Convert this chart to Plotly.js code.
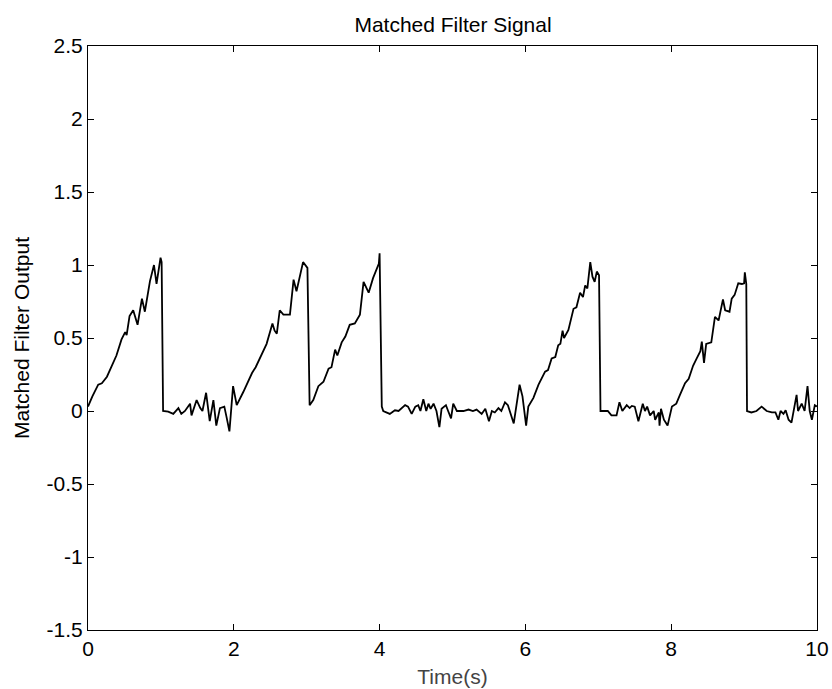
<!DOCTYPE html>
<html>
<head>
<meta charset="utf-8">
<script src="https://cdn.plot.ly/plotly-3.0.1.min.js"></script>
<style>html,body{margin:0;padding:0;background:#fff;}#chart{width:832px;height:689px;}</style>
</head>
<body>
<div id="chart"></div>
<script>
// Time (s)
const timeS = [
0.0,0.06,0.14,0.19,0.26,0.33,0.39,0.46,0.51,0.53,0.57,0.62,0.68,0.74,0.78,0.85,0.905,0.94,0.995,1.01,1.03,
1.10,1.17,1.24,1.28,1.33,1.40,1.42,1.49,1.54,1.57,1.62,1.67,1.72,1.76,1.81,1.87,1.90,1.94,1.99,2.04,
2.13,2.25,2.30,2.36,2.45,2.53,2.56,2.59,2.63,2.68,2.77,2.82,2.86,2.95,3.01,3.04,
3.09,3.16,3.23,3.30,3.34,3.39,3.42,3.48,3.53,3.59,3.66,3.73,3.78,3.85,3.91,3.99,4.00,4.03,
4.05,4.14,4.21,4.26,4.30,4.35,4.39,4.44,4.49,4.53,4.56,4.60,4.64,4.67,4.70,4.74,4.78,4.82,4.85,4.91,4.94,4.98,5.01,5.06,5.15,5.22,5.28,5.33,5.40,5.45,5.50,5.54,5.58,5.63,5.67,5.72,5.76,5.84,5.92,5.96,6.01,6.04,
6.11,6.18,6.27,6.31,6.36,6.41,6.45,6.48,6.51,6.53,6.59,6.66,6.70,6.75,6.79,6.82,6.85,6.89,6.92,6.95,6.98,7.01,7.03,
7.09,7.13,7.18,7.25,7.29,7.33,7.39,7.43,7.46,7.50,7.55,7.61,7.64,7.67,7.71,7.76,7.78,7.83,7.84,7.86,7.90,7.95,
8.01,8.07,8.12,8.19,8.24,8.30,8.35,8.40,8.42,8.45,8.48,8.55,8.60,8.65,8.71,8.74,8.80,8.83,8.87,8.92,8.97,9.00,9.01,9.03,9.04,
9.10,9.17,9.24,9.31,9.38,9.43,9.47,9.50,9.54,9.57,9.61,9.65,9.68,9.72,9.74,9.79,9.83,9.87,9.90,9.93,9.97,10.0
];
// Matched filter output
const output = [
0.03,0.10,0.18,0.19,0.235,0.31,0.38,0.49,0.54,0.52,0.65,0.69,0.59,0.77,0.68,0.89,1.0,0.87,1.05,1.02,0.0,
-0.005,-0.02,0.02,-0.02,0.0,0.05,-0.03,0.075,0.02,0.0,0.125,-0.07,0.075,-0.10,0.02,0.03,-0.04,-0.14,0.17,0.04,
0.13,0.26,0.30,0.36,0.46,0.60,0.55,0.53,0.69,0.66,0.66,0.90,0.82,1.02,0.98,0.04,
0.075,0.17,0.20,0.29,0.30,0.42,0.38,0.47,0.51,0.59,0.60,0.66,0.885,0.81,0.91,1.01,1.08,0.03,
0.0,-0.02,0.005,0.0,0.02,0.04,0.03,-0.02,0.03,0.04,0.0,0.08,0.0,0.05,0.015,0.05,0.0,-0.11,0.015,0.04,0.0,-0.05,0.05,0.0,0.0,0.01,0.0,0.01,-0.02,0.015,-0.07,0.0,-0.01,0.02,0.0,0.06,0.04,-0.085,0.18,0.10,-0.10,0.03,
0.09,0.18,0.27,0.28,0.36,0.37,0.45,0.46,0.55,0.50,0.555,0.70,0.71,0.81,0.78,0.86,0.84,1.02,0.92,0.885,0.955,0.93,0.0,
0.0,0.0,-0.03,-0.03,0.06,0.0,0.04,0.02,0.035,0.03,-0.07,0.05,0.0,0.03,-0.03,0.0,-0.06,-0.01,-0.10,0.015,-0.06,-0.10,
0.03,0.05,0.11,0.19,0.22,0.31,0.36,0.41,0.475,0.33,0.46,0.47,0.645,0.62,0.765,0.69,0.68,0.77,0.795,0.875,0.87,0.875,0.95,0.87,0.0,
-0.01,0.0,0.03,0.0,-0.01,-0.01,-0.06,0.0,-0.02,0.005,-0.06,-0.08,0.015,0.11,0.0,0.05,0.0,0.17,0.0,-0.06,0.04,0.03
];
const xTicks = [0,2,4,6,8,10];
const yTicks = [-1.5,-1,-0.5,0,0.5,1,1.5,2,2.5];
const yTickText = ['-1.5','-1','-0.5','0','0.5','1','1.5','2','2.5'];

const FONT = 'Liberation Sans, Arial, Helvetica, sans-serif';

Plotly.newPlot('chart', [{
  x: timeS, y: output, type: 'scatter', mode: 'lines',
  line: {color: '#000', width: 1.8}, hoverinfo: 'skip'
}], {
  width: 832, height: 689,
  margin: {l: 88, r: 15, t: 46, b: 59},
  paper_bgcolor: '#fff', plot_bgcolor: '#fff',
  showlegend: false,
  font: {family: FONT, color: '#000', size: 21},
  title: {text: 'Matched Filter Signal', font: {family: FONT, size: 21, color: '#000'},
          x: 0.5445, xanchor: 'center', yref: 'container', y: 0.964, yanchor: 'middle'},
  xaxis: {
    range: [0, 10], tickvals: xTicks, ticktext: xTicks.map(String),
    ticks: 'inside', ticklen: 6, tickcolor: '#000', tickwidth: 1,
    showline: true, linecolor: '#000', linewidth: 1, mirror: 'ticks',
    showgrid: false, zeroline: false, automargin: false,
    tickfont: {family: FONT, size: 21, color: '#000'},
    title: {text: 'Time(s)', font: {family: FONT, size: 21, color: '#444'}, standoff: 10}
  },
  yaxis: {
    range: [-1.5, 2.5], tickvals: yTicks, ticktext: yTickText,
    ticks: 'inside', ticklen: 6, tickcolor: '#000', tickwidth: 1,
    showline: true, linecolor: '#000', linewidth: 1, mirror: 'ticks',
    showgrid: false, zeroline: false, automargin: false,
    tickfont: {family: FONT, size: 21, color: '#000'},
    title: {text: 'Matched Filter Output', font: {family: FONT, size: 21, color: '#000'}, standoff: 11}
  }
}, {staticPlot: true});
</script>
</body>
</html>
